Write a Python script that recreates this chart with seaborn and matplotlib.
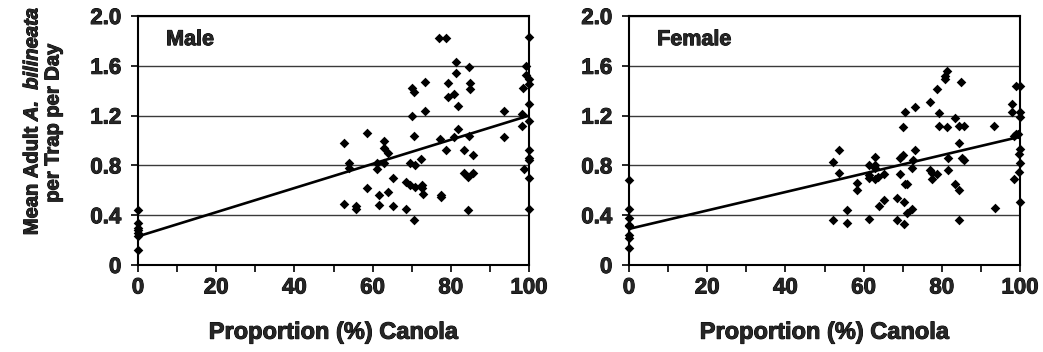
import numpy as np
import pandas as pd
import matplotlib
matplotlib.use("Agg")
import matplotlib.pyplot as plt
import matplotlib.patheffects as pe
from matplotlib.ticker import MultipleLocator
import seaborn as sns

# ---- data: proportion of canola (%) vs mean adults per trap per day ----
male_canola = [0, 0, 0, 0, 0, 0, 0,
               52.7, 52.7, 54.0, 54.0, 55.8, 55.8, 58.5, 58.5, 61.2, 61.2,
               61.6, 61.6, 63.0, 63.0, 63.9, 62.9, 63.9, 65.2, 65.2, 68.6,
               68.6, 69.5, 69.5, 70.0, 70.2, 70.7, 70.7, 70.9, 70.9, 70.5,
               72.3, 72.6, 72.6, 72.9, 73.3, 73.4, 77.1, 78.8, 77.3, 77.4,
               77.4, 78.8, 79.4, 79.4, 80.7, 80.9, 81.4, 81.4, 81.8, 81.8,
               83.4, 83.5, 84.3, 84.6, 84.8, 84.8, 84.6, 84.5, 85.6, 85.6,
               93.6, 93.6, 98.1, 98.3, 98.6, 98.5, 99.2, 99.2,
               100, 100, 100, 100, 100, 100, 100, 100, 100, 100]
male_count = [0.44, 0.34, 0.30, 0.28, 0.26, 0.23, 0.12,
              0.98, 0.49, 0.82, 0.78, 0.47, 0.45, 1.06, 0.62, 0.82, 0.77,
              0.56, 0.48, 1.00, 0.94, 0.90, 0.82, 0.59, 0.70, 0.47, 0.45,
              0.67, 0.64, 0.82, 1.20, 1.42, 1.39, 1.04, 0.80, 0.63, 0.36,
              0.85, 0.64, 0.62, 0.57, 1.47, 1.24, 1.82, 1.82, 1.01, 0.56,
              0.55, 0.92, 1.46, 1.35, 1.03, 1.37, 1.63, 1.54, 1.28, 1.09,
              0.92, 0.74, 0.71, 1.59, 1.46, 1.41, 1.04, 0.44, 0.88, 0.74,
              1.24, 1.03, 1.21, 1.12, 0.77, 1.42, 1.60, 1.53,
              1.83, 1.49, 1.45, 1.29, 1.16, 0.92, 0.86, 0.84, 0.70, 0.45]

female_canola = [0, 0, 0, 0, 0, 0, 0, 0,
                 52.3, 52.3, 53.8, 53.8, 55.7, 55.7, 58.2, 58.2, 61.4, 61.4,
                 61.4, 61.4, 62.9, 62.8, 62.9, 62.9, 63.6, 63.9, 65.1, 65.2,
                 68.6, 68.6, 69.3, 69.3, 70.0, 70.0, 70.3, 70.3, 70.5, 71.0,
                 71.0, 70.6, 72.3, 72.3, 72.6, 73.2, 73.2, 77.0, 77.0, 77.4,
                 77.4, 78.7, 78.7, 79.4, 79.4, 80.9, 80.9, 81.3, 81.3, 81.6,
                 81.6, 83.4, 83.4, 84.5, 84.5, 84.5, 84.5, 84.8, 85.2, 85.6,
                 85.6, 93.4, 93.7, 98.0, 98.0, 98.5, 98.5, 98.9, 98.9, 99.5,
                 100, 100, 100, 100, 99.7, 100, 99.7, 100]
female_count = [0.68, 0.45, 0.38, 0.32, 0.31, 0.24, 0.22, 0.14,
                0.83, 0.36, 0.92, 0.74, 0.44, 0.34, 0.66, 0.60, 0.80, 0.72,
                0.70, 0.37, 0.87, 0.80, 0.78, 0.69, 0.71, 0.47, 0.73, 0.52,
                0.54, 0.36, 0.73, 0.86, 0.88, 1.11, 0.51, 0.33, 0.65, 0.65,
                0.42, 1.23, 0.45, 0.78, 0.84, 0.92, 1.27, 1.31, 0.76, 0.74,
                0.69, 1.41, 0.73, 1.22, 1.12, 1.52, 1.49, 1.56, 1.11, 0.86,
                0.76, 1.18, 0.65, 0.98, 1.12, 0.60, 0.36, 1.47, 0.86, 0.84,
                1.12, 1.12, 0.46, 1.29, 1.23, 1.04, 0.69, 1.44, 1.05, 1.05,
                1.44, 1.23, 1.19, 0.93, 0.89, 0.82, 0.75, 0.51]

# linear trend lines: (intercept, slope per % canola)
male_fit = (0.23, 0.0097)
female_fit = (0.29, 0.0074)

panel_titles = ["Male", "Female"]
x_ticks = [0, 20, 40, 60, 80, 100]
y_ticks = [0, 0.4, 0.8, 1.2, 1.6, 2.0]
y_tick_labels = ["0", "0.4", "0.8", "1.2", "1.6", "2.0"]

sns.set_theme(style="white")
plt.rcParams["font.family"] = ["Liberation Sans", "DejaVu Sans"]
plt.rcParams["font.weight"] = "bold"
plt.rcParams["mathtext.fontset"] = "custom"
plt.rcParams["mathtext.bfit"] = "Liberation Sans:bold:italic"
plt.rcParams["mathtext.bf"] = "Liberation Sans:bold"
plt.rcParams["mathtext.rm"] = "Liberation Sans:bold"

# slightly heavier strokes for the bold text
heavy = [pe.withStroke(linewidth=0.7, foreground="black")]

fig = plt.figure(figsize=(10.43, 3.52), dpi=100)
W, H = 1043, 352
axes_px = [(138, 16, 391, 249), (629, 16, 391, 249)]

panels = [
    (male_canola, male_count, male_fit),
    (female_canola, female_count, female_fit),
]

for (left, top, w, h), (xs, ys, fit), title in zip(axes_px, panels, panel_titles):
    ax = fig.add_axes([left / W, 1 - (top + h) / H, w / W, h / H])
    df = pd.DataFrame({"canola": xs, "adults": ys})

    # horizontal gridlines
    for yv in y_ticks[1:]:
        ax.axhline(yv, color="#3a3a3a", lw=1.0, zorder=0)

    sns.scatterplot(data=df, x="canola", y="adults", ax=ax, marker="D",
                    s=24, color="black", edgecolor="black", linewidth=0,
                    zorder=3, legend=False, clip_on=False)

    line_df = pd.DataFrame({"canola": [0, 100],
                            "adults": [fit[0], fit[0] + fit[1] * 100]})
    sns.lineplot(data=line_df, x="canola", y="adults", ax=ax,
                 color="black", lw=1.9, zorder=4)

    ax.set_xlim(0, 100)
    ax.set_ylim(0, 2.0)
    ax.set_xticks(x_ticks)
    ax.xaxis.set_minor_locator(MultipleLocator(10))
    ax.set_yticks(y_ticks)
    ax.set_yticklabels(y_tick_labels)
    ax.tick_params(axis="both", which="both", direction="out", color="black",
                   width=1.2, labelsize=16)
    ax.tick_params(axis="x", which="major", length=5, pad=4)
    ax.tick_params(axis="x", which="minor", length=5)
    ax.tick_params(axis="y", which="major", length=5, pad=7)
    ax.tick_params(bottom=True, left=True, which="both")
    for lab in ax.get_xticklabels() + ax.get_yticklabels():
        lab.set_fontweight("bold")
        lab.set_path_effects(heavy)
    for sp in ax.spines.values():
        sp.set_visible(True)
        sp.set_color("black")
        sp.set_linewidth(1.5)
    ax.set_xlabel("Proportion (%) Canola", fontsize=17, fontweight="bold",
                  labelpad=16, path_effects=heavy)
    ax.set_ylabel("")
    ax.text(0.072, 0.905, title, transform=ax.transAxes, fontsize=15.5,
            fontweight="bold", va="center", ha="left", path_effects=heavy)

fig.text(32 / W, 1 - 121 / H, r"Mean Adult $\mathbfit{A.\ bilineata}$",
         rotation=90, ha="center", va="center", fontsize=14.5,
         fontweight="bold", path_effects=heavy)
fig.text(53 / W, 1 - 123 / H, "per Trap per Day", rotation=90,
         ha="center", va="center", fontsize=14.5, fontweight="bold",
         path_effects=heavy)

fig.savefig("out.png", dpi=100)
